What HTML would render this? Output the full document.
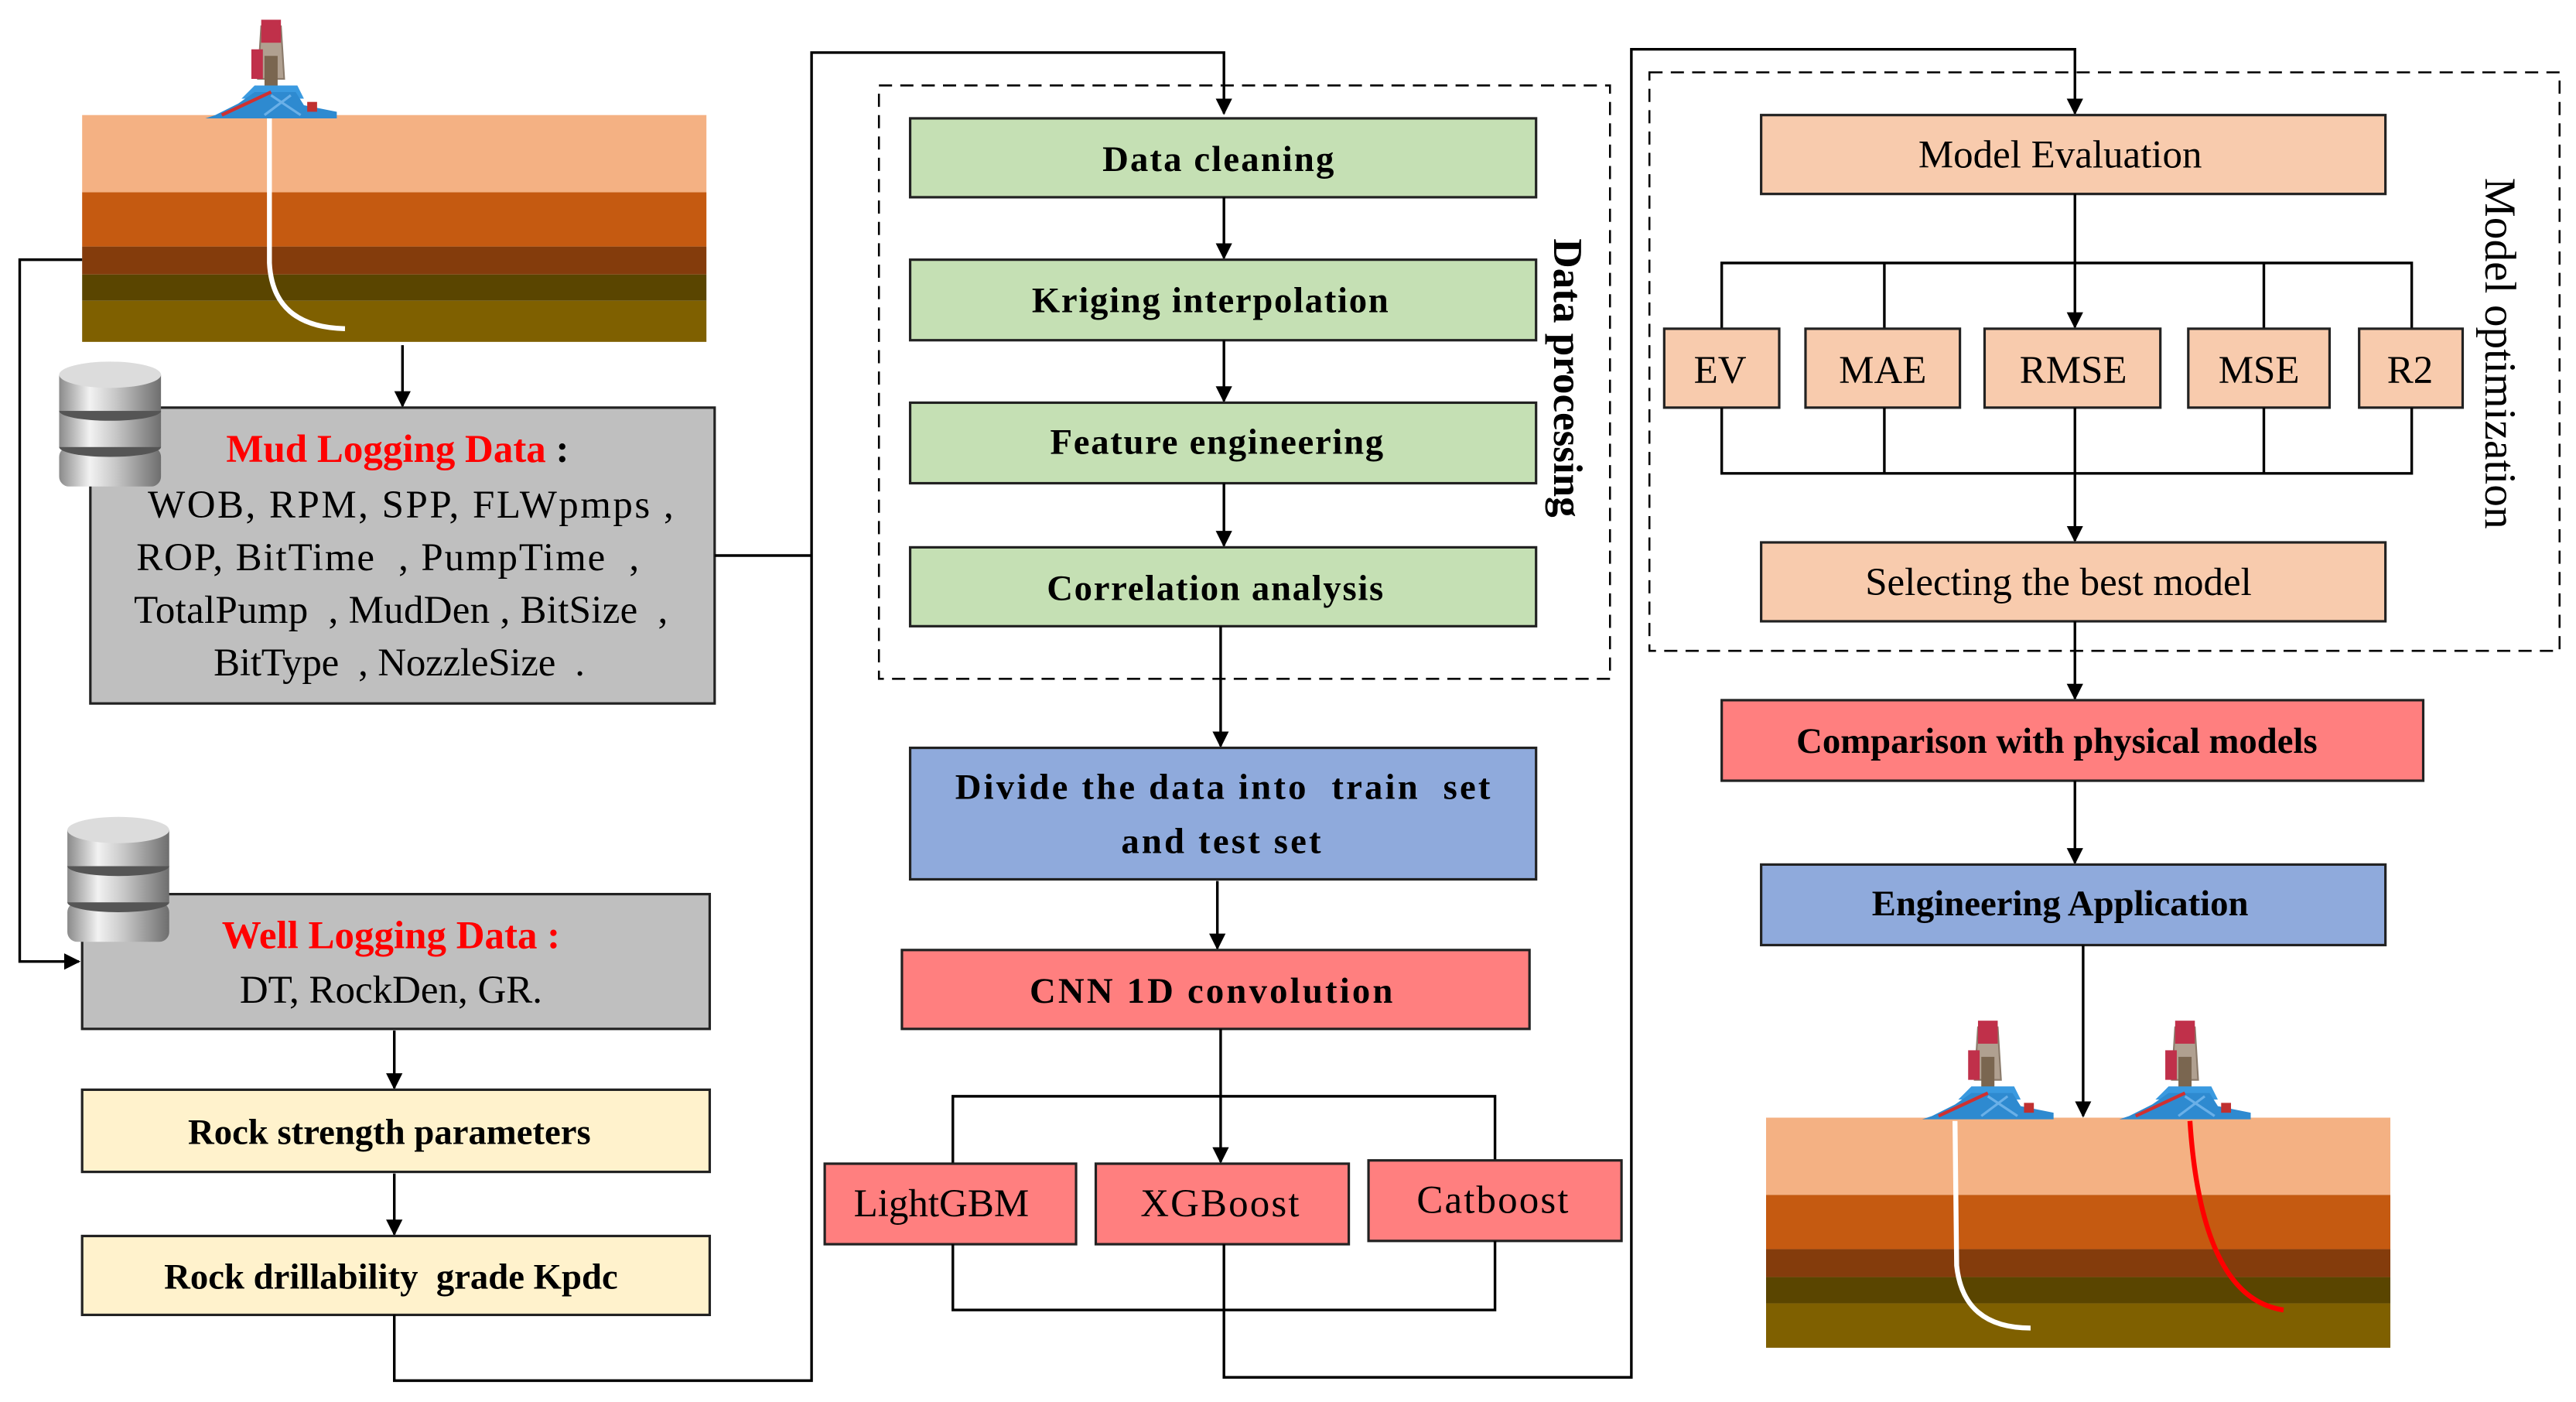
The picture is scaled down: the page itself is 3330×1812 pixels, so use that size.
<!DOCTYPE html>
<html><head><meta charset="utf-8"><style>
html,body{margin:0;padding:0;background:#fff;}
svg{display:block;}
text{font-family:"Liberation Serif",serif;}
.b{font-weight:bold;font-size:22px;}
.n{font-size:24px;}
</style></head><body>
<svg width="3330" height="1812" viewBox="0 0 1568 853" preserveAspectRatio="none" xmlns="http://www.w3.org/2000/svg">
<defs>
<marker id="ah" markerWidth="10" markerHeight="10" refX="9" refY="5" orient="auto" markerUnits="userSpaceOnUse">
<path d="M0,0 L10,5 L0,10 z" fill="#000"/>
</marker>
<linearGradient id="silver" x1="0" x2="1" y1="0" y2="0">
<stop offset="0" stop-color="#8a8a8a"/><stop offset="0.3" stop-color="#f2f2f2"/><stop offset="0.55" stop-color="#c8c8c8"/><stop offset="1" stop-color="#6e6e6e"/>
</linearGradient>
<g id="db">
<rect x="0" y="52" width="62" height="24" rx="6" fill="url(#silver)"/>
<ellipse cx="31" cy="52" rx="31" ry="6" fill="#555"/>
<rect x="0" y="30" width="62" height="22" fill="url(#silver)"/>
<ellipse cx="31" cy="30" rx="31" ry="6" fill="#555"/>
<rect x="0" y="8" width="62" height="22" fill="url(#silver)"/>
<ellipse cx="31" cy="8" rx="31" ry="8" fill="#dcdcdc"/>
</g>
<g id="rig">
<path d="M32,40 L34,8 L46,8 L48,40 z" fill="#b0a090" stroke="#8a7a6a" stroke-width="1"/>
<rect x="34" y="4" width="12" height="14" fill="#c0304a"/>
<rect x="28" y="22" width="7" height="18" fill="#c0304a"/>
<rect x="36" y="26" width="8" height="26" fill="#7a6650"/>
<path d="M22,52 L30,44 L56,44 L60,52 z" fill="#3a9ae0"/>
<path d="M6,62 L20,55 L30,48 L55,48 L60,56 L80,60 L80,64 L0,64 z" fill="#2e8ad0"/>
<path d="M10,62 L40,48" stroke="#d03030" stroke-width="2"/>
<path d="M40,50 L58,62 M52,50 L36,62" stroke="#6ab0e8" stroke-width="1.5"/>
<rect x="62" y="54" width="6" height="6" fill="#c03030"/>
</g>
</defs>

<!-- left strata -->
<rect x="50" y="70" width="380" height="47" fill="#f4b183"/>
<rect x="50" y="117" width="380" height="33" fill="#c55a11"/>
<rect x="50" y="150" width="380" height="17" fill="#843c0c"/>
<rect x="50" y="167" width="380" height="16" fill="#5a4500"/>
<rect x="50" y="183" width="380" height="25" fill="#7f6000"/>
<path d="M164,72 L164,160 Q166,199 210,200" stroke="#fff" stroke-width="3" fill="none"/>
<use href="#rig" x="125" y="8"/>

<!-- left loop -->
<polyline points="50,158 12,158 12,585 48,585" fill="none" stroke="#000" stroke-width="1.6" marker-end="url(#ah)"/>
<line x1="245" y1="210" x2="245" y2="247" stroke="#000" stroke-width="1.6" marker-end="url(#ah)"/>

<!-- mud box -->
<rect x="55" y="248" width="380" height="180" fill="#bfbfbf" stroke="#222" stroke-width="1.5"/>
<use href="#db" x="36" y="220"/>
<text x="242" y="281" text-anchor="middle" font-size="24" font-weight="bold"><tspan fill="#ff0000">Mud Logging Data</tspan><tspan fill="#000"> :</tspan></text>
<text x="250" y="315" text-anchor="middle" class="n" textLength="320">WOB, RPM, SPP, FLWpmps ,</text>
<text x="236" y="347" text-anchor="middle" class="n" textLength="306">ROP, BitTime&#160;&#160;, PumpTime&#160;&#160;,</text>
<text x="244" y="379" text-anchor="middle" class="n" textLength="325">TotalPump&#160;&#160;, MudDen , BitSize&#160;&#160;,</text>
<text x="243" y="411" text-anchor="middle" class="n" textLength="226">BitType&#160;&#160;, NozzleSize&#160;&#160;.</text>

<!-- well box -->
<rect x="50" y="544" width="382" height="82" fill="#bfbfbf" stroke="#222" stroke-width="1.5"/>
<use href="#db" x="41" y="497"/>
<text x="238" y="577" text-anchor="middle" font-size="24" font-weight="bold" fill="#ff0000">Well Logging Data :</text>
<text x="238" y="610" text-anchor="middle" class="n">DT, RockDen, GR.</text>
<line x1="240" y1="627" x2="240" y2="662" stroke="#000" stroke-width="1.6" marker-end="url(#ah)"/>
<rect x="50" y="663" width="382" height="50" fill="#fff2cc" stroke="#222" stroke-width="1.5"/>
<text x="237" y="696" text-anchor="middle" class="b">Rock strength parameters</text>
<line x1="240" y1="714" x2="240" y2="751" stroke="#000" stroke-width="1.6" marker-end="url(#ah)"/>
<rect x="50" y="752" width="382" height="48" fill="#fff2cc" stroke="#222" stroke-width="1.5"/>
<text x="238" y="784" text-anchor="middle" class="b">Rock drillability&#160;&#160;grade Kpdc</text>

<!-- connector left to middle -->
<polyline points="435,338 494,338" fill="none" stroke="#000" stroke-width="1.6"/>
<polyline points="240,800 240,840 494,840 494,32 745,32 745,69" fill="none" stroke="#000" stroke-width="1.6" marker-end="url(#ah)"/>

<!-- middle dashed -->
<rect x="535" y="52" width="445" height="361" fill="none" stroke="#000" stroke-width="1.2" stroke-dasharray="8,5"/>
<text transform="translate(946,230) rotate(90)" text-anchor="middle" font-size="25" font-weight="bold">Data processing</text>

<rect x="554" y="72" width="381" height="48" fill="#c5e0b4" stroke="#222" stroke-width="1.5"/>
<text x="742" y="104" text-anchor="middle" class="b" letter-spacing="1">Data cleaning</text>
<line x1="745" y1="120" x2="745" y2="157" stroke="#000" stroke-width="1.6" marker-end="url(#ah)"/>
<rect x="554" y="158" width="381" height="49" fill="#c5e0b4" stroke="#222" stroke-width="1.5"/>
<text x="737" y="190" text-anchor="middle" class="b" letter-spacing="0.8">Kriging interpolation</text>
<line x1="745" y1="207" x2="745" y2="244" stroke="#000" stroke-width="1.6" marker-end="url(#ah)"/>
<rect x="554" y="245" width="381" height="49" fill="#c5e0b4" stroke="#222" stroke-width="1.5"/>
<text x="741" y="276" text-anchor="middle" class="b" letter-spacing="0.8">Feature engineering</text>
<line x1="745" y1="294" x2="745" y2="332" stroke="#000" stroke-width="1.6" marker-end="url(#ah)"/>
<rect x="554" y="333" width="381" height="48" fill="#c5e0b4" stroke="#222" stroke-width="1.5"/>
<text x="740" y="365" text-anchor="middle" class="b" letter-spacing="0.8">Correlation analysis</text>
<line x1="743" y1="381" x2="743" y2="454" stroke="#000" stroke-width="1.6" marker-end="url(#ah)"/>

<rect x="554" y="455" width="381" height="80" fill="#8faadc" stroke="#222" stroke-width="1.5"/>
<text x="745" y="486" text-anchor="middle" class="b" letter-spacing="1.5">Divide the data into&#160; train&#160; set</text>
<text x="744" y="519" text-anchor="middle" class="b" letter-spacing="1.5">and test set</text>
<line x1="741" y1="536" x2="741" y2="577" stroke="#000" stroke-width="1.6" marker-end="url(#ah)"/>
<rect x="549" y="578" width="382" height="48" fill="#ff7f7f" stroke="#222" stroke-width="1.5"/>
<text x="738" y="610" text-anchor="middle" class="b" letter-spacing="1.5">CNN 1D convolution</text>

<line x1="743" y1="626" x2="743" y2="707" stroke="#000" stroke-width="1.6" marker-end="url(#ah)"/>
<polyline points="580,708 580,667 910,667 910,706" fill="none" stroke="#000" stroke-width="1.6"/>
<rect x="502" y="708" width="153" height="49" fill="#ff7f7f" stroke="#222" stroke-width="1.5"/>
<text x="573" y="740" text-anchor="middle" class="n">LightGBM</text>
<rect x="667" y="708" width="154" height="49" fill="#ff7f7f" stroke="#222" stroke-width="1.5"/>
<text x="743" y="740" text-anchor="middle" class="n" letter-spacing="1">XGBoost</text>
<rect x="833" y="706" width="154" height="49" fill="#ff7f7f" stroke="#222" stroke-width="1.5"/>
<text x="909" y="738" text-anchor="middle" class="n" letter-spacing="1">Catboost</text>
<polyline points="580,757 580,797 910,797 910,755" fill="none" stroke="#000" stroke-width="1.6"/>
<polyline points="745,757 745,838 993,838 993,30 1263,30 1263,69" fill="none" stroke="#000" stroke-width="1.6" marker-end="url(#ah)"/>

<!-- right dashed -->
<rect x="1004" y="44" width="554" height="352" fill="none" stroke="#000" stroke-width="1.2" stroke-dasharray="8,5"/>
<text transform="translate(1513,215) rotate(90)" text-anchor="middle" font-size="27">Model optimization</text>

<rect x="1072" y="70" width="380" height="48" fill="#f8cbad" stroke="#222" stroke-width="1.5"/>
<text x="1254" y="102" text-anchor="middle" class="n">Model Evaluation</text>
<line x1="1263" y1="118" x2="1263" y2="199" stroke="#000" stroke-width="1.6" marker-end="url(#ah)"/>
<polyline points="1048,200 1048,160 1468,160 1468,200" fill="none" stroke="#000" stroke-width="1.6"/>
<line x1="1147" y1="160" x2="1147" y2="200" stroke="#000" stroke-width="1.6"/>
<line x1="1378" y1="160" x2="1378" y2="200" stroke="#000" stroke-width="1.6"/>
<rect x="1013" y="200" width="70" height="48" fill="#f8cbad" stroke="#222" stroke-width="1.5"/>
<text x="1047" y="233" text-anchor="middle" class="n">EV</text>
<rect x="1099" y="200" width="94" height="48" fill="#f8cbad" stroke="#222" stroke-width="1.5"/>
<text x="1146" y="233" text-anchor="middle" class="n">MAE</text>
<rect x="1208" y="200" width="107" height="48" fill="#f8cbad" stroke="#222" stroke-width="1.5"/>
<text x="1262" y="233" text-anchor="middle" class="n">RMSE</text>
<rect x="1332" y="200" width="86" height="48" fill="#f8cbad" stroke="#222" stroke-width="1.5"/>
<text x="1375" y="233" text-anchor="middle" class="n">MSE</text>
<rect x="1436" y="200" width="63" height="48" fill="#f8cbad" stroke="#222" stroke-width="1.5"/>
<text x="1467" y="233" text-anchor="middle" class="n">R2</text>
<polyline points="1048,248 1048,288 1468,288 1468,248" fill="none" stroke="#000" stroke-width="1.6"/>
<line x1="1147" y1="248" x2="1147" y2="288" stroke="#000" stroke-width="1.6"/>
<line x1="1378" y1="248" x2="1378" y2="288" stroke="#000" stroke-width="1.6"/>
<line x1="1263" y1="248" x2="1263" y2="329" stroke="#000" stroke-width="1.6" marker-end="url(#ah)"/>
<rect x="1072" y="330" width="380" height="48" fill="#f8cbad" stroke="#222" stroke-width="1.5"/>
<text x="1253" y="362" text-anchor="middle" class="n">Selecting the best model</text>
<line x1="1263" y1="378" x2="1263" y2="425" stroke="#000" stroke-width="1.6" marker-end="url(#ah)"/>
<rect x="1048" y="426" width="427" height="49" fill="#ff7f7f" stroke="#222" stroke-width="1.5"/>
<text x="1252" y="458" text-anchor="middle" class="b">Comparison with physical models</text>
<line x1="1263" y1="475" x2="1263" y2="525" stroke="#000" stroke-width="1.6" marker-end="url(#ah)"/>
<rect x="1072" y="526" width="380" height="49" fill="#8faadc" stroke="#222" stroke-width="1.5"/>
<text x="1254" y="557" text-anchor="middle" class="b">Engineering Application</text>
<line x1="1268" y1="575" x2="1268" y2="679" stroke="#000" stroke-width="1.6" marker-end="url(#ah)"/>

<!-- right strata -->
<rect x="1075" y="680" width="380" height="47" fill="#f4b183"/>
<rect x="1075" y="727" width="380" height="33" fill="#c55a11"/>
<rect x="1075" y="760" width="380" height="17" fill="#843c0c"/>
<rect x="1075" y="777" width="380" height="16" fill="#5a4500"/>
<rect x="1075" y="793" width="380" height="27" fill="#7f6000"/>
<path d="M1190,682 L1191,770 Q1195,808 1236,808" stroke="#fff" stroke-width="3" fill="none"/>
<path d="M1333,682 Q1340,790 1390,797" stroke="#ff0000" stroke-width="3" fill="none"/>
<use href="#rig" x="1170" y="617"/>
<use href="#rig" x="1290" y="617"/>
</svg>
</body></html>
